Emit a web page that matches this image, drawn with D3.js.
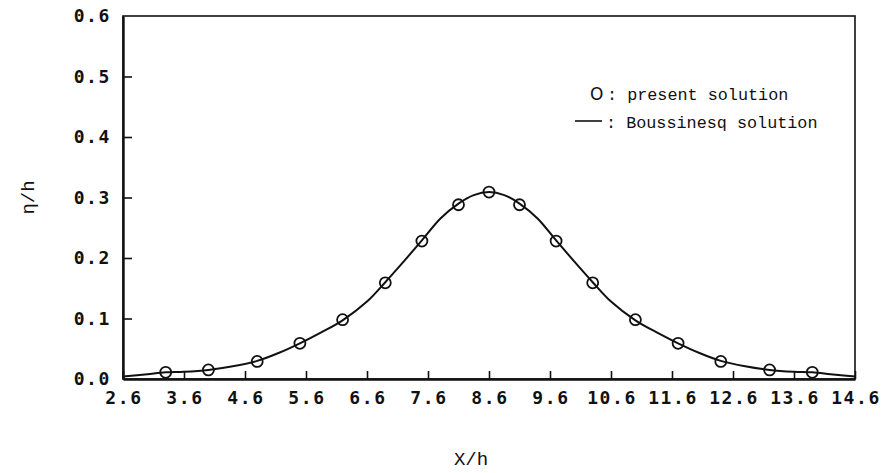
<!DOCTYPE html>
<html>
<head>
<meta charset="utf-8">
<script src="https://cdn.jsdelivr.net/npm/d3@7"></script>
<style>
  body { margin: 0; background: #fff; }
  .tick-label { font-family: "DejaVu Sans Mono", monospace; font-weight: bold; font-size: 18px; letter-spacing: 1.6px; fill: #111; }
  .title { font-family: "Liberation Mono", "Courier New", monospace; font-size: 19px; fill: #111; }
  .legend { font-family: "Liberation Mono", "Courier New", monospace; font-size: 16.8px; fill: #111; }
</style>
</head>
<body>
<div class="svg-container"></div>
<script>
document.addEventListener("DOMContentLoaded", () => {

  // tick values
  let xTicks = [2.6, 3.6, 4.6, 5.6, 6.6, 7.6, 8.6, 9.6, 10.6, 11.6, 12.6, 13.6, 14.6];
  let yTicks = [0.0, 0.1, 0.2, 0.3, 0.4, 0.5, 0.6];

  // present solution (circles)
  let presentX = [3.3, 4.0, 4.8, 5.5, 6.2, 6.9, 7.5, 8.1, 8.6, 9.1, 9.7, 10.3, 11.0, 11.7, 12.4, 13.2, 13.9];
  let presentY = [0.011, 0.015, 0.029, 0.059, 0.098, 0.159, 0.228, 0.288, 0.309, 0.288, 0.228, 0.159, 0.098, 0.059, 0.029, 0.015, 0.011];

  // Boussinesq solution (line)
  let boussX = [2.6, 3.0, 3.3, 3.6, 4.0, 4.4, 4.8, 5.15, 5.5, 5.85, 6.2, 6.6, 6.9, 7.2, 7.5, 7.8, 8.1, 8.35, 8.6,
                8.85, 9.1, 9.4, 9.7, 10.0, 10.3, 10.6, 11.0, 11.35, 11.7, 12.05, 12.4, 12.8, 13.2, 13.6, 13.9, 14.2, 14.6];
  let boussY = [0.004, 0.008, 0.011, 0.012, 0.015, 0.021, 0.030, 0.043, 0.059, 0.077, 0.097, 0.128, 0.160, 0.194, 0.229, 0.265, 0.290, 0.304, 0.309,
                0.304, 0.290, 0.265, 0.229, 0.194, 0.160, 0.128, 0.097, 0.077, 0.059, 0.043, 0.030, 0.021, 0.015, 0.012, 0.011, 0.008, 0.004];

  let width = 887,
  height = 473;

  let left = 123, right = 855, top = 16, bottom = 379;

  let svg = d3.select(".svg-container").append("svg")
    .attr("width", width)
    .attr("height", height);

  const xScale = d3.scaleLinear()
    .domain([2.6, 14.6])
    .range([left, right]);

  const yScale = d3.scaleLinear()
    .domain([0, 0.6])
    .range([bottom, top]);

  //Frame
  svg.append("rect")
    .attr("x", left)
    .attr("y", top)
    .attr("width", right - left)
    .attr("height", bottom - top)
    .attr("fill", "none")
    .attr("stroke", "#111")
    .attr("stroke-width", 1.6);

  //Bottom axis, inward ticks
  const xAxis = d3.axisTop(xScale)
    .tickValues(xTicks)
    .tickSize(8)
    .tickSizeOuter(0)
    .tickFormat("");

  svg.append("g")
    .attr("transform", "translate(0," + bottom + ")")
    .call(xAxis)
    .call(g => g.select(".domain").attr("stroke", "#111").attr("stroke-width", 2.4))
    .call(g => g.selectAll(".tick line").attr("stroke", "#111").attr("stroke-width", 1.6));

  svg.selectAll(".xlab")
    .data(xTicks)
    .enter()
    .append("text")
    .attr("class", "tick-label")
    .attr("x", d => xScale(d) + 1)
    .attr("y", 398)
    .attr("dy", "0.35em")
    .attr("text-anchor", "middle")
    .text(d => d.toFixed(1));

  //Left axis, inward ticks
  const yAxis = d3.axisRight(yScale)
    .tickValues(yTicks.slice(1, -1))
    .tickSize(9)
    .tickSizeOuter(0)
    .tickFormat("");

  svg.append("g")
    .attr("transform", "translate(" + left + ",0)")
    .call(yAxis)
    .call(g => g.select(".domain").attr("stroke", "#111").attr("stroke-width", 2.4))
    .call(g => g.selectAll(".tick line").attr("stroke", "#111").attr("stroke-width", 1.6));

  svg.selectAll(".ylab")
    .data(yTicks)
    .enter()
    .append("text")
    .attr("class", "tick-label")
    .attr("x", 111)
    .attr("y", d => yScale(d))
    .attr("dy", "0.35em")
    .attr("text-anchor", "end")
    .text(d => d.toFixed(1));

  //Axis titles
  svg.append("text")
    .attr("class", "title")
    .attr("x", 471)
    .attr("y", 458)
    .attr("dy", "0.35em")
    .attr("text-anchor", "middle")
    .text("X/h");

  svg.append("text")
    .attr("class", "title")
    .attr("transform", "translate(27," + ((top + bottom) / 2) + ") rotate(-90)")
    .attr("dy", "0.35em")
    .attr("text-anchor", "middle")
    .text("η/h");

  //Boussinesq line
  const line = d3.line()
    .x(d => xScale(d[0]))
    .y(d => yScale(d[1]))
    .curve(d3.curveCatmullRom.alpha(0.5));

  svg.append("path")
    .datum(boussX.map((x, i) => [x, boussY[i]]))
    .attr("d", line)
    .attr("fill", "none")
    .attr("stroke", "#111")
    .attr("stroke-width", 2);

  //Present solution circles
  svg.selectAll(".pt")
    .data(presentX.map((x, i) => [x, presentY[i]]))
    .enter()
    .append("circle")
    .attr("cx", d => xScale(d[0]))
    .attr("cy", d => yScale(d[1]))
    .attr("r", 5.5)
    .attr("fill", "none")
    .attr("stroke", "#111")
    .attr("stroke-width", 1.8);

  //Legend
  svg.append("text")
    .attr("x", 590)
    .attr("y", 94)
    .attr("dy", "0.35em")
    .style("font-family", "'DejaVu Sans', sans-serif")
    .style("font-size", "17px")
    .style("fill", "#111")
    .text("O");

  svg.append("text")
    .attr("class", "legend")
    .attr("x", 607)
    .attr("y", 94)
    .attr("dy", "0.35em")
    .text(": present solution");

  svg.append("line")
    .attr("x1", 575)
    .attr("x2", 602)
    .attr("y1", 121)
    .attr("y2", 121)
    .attr("stroke", "#111")
    .attr("stroke-width", 1.6);

  svg.append("text")
    .attr("class", "legend")
    .attr("x", 606)
    .attr("y", 122)
    .attr("dy", "0.35em")
    .text(": Boussinesq solution");

})
</script>
</body>
</html>
